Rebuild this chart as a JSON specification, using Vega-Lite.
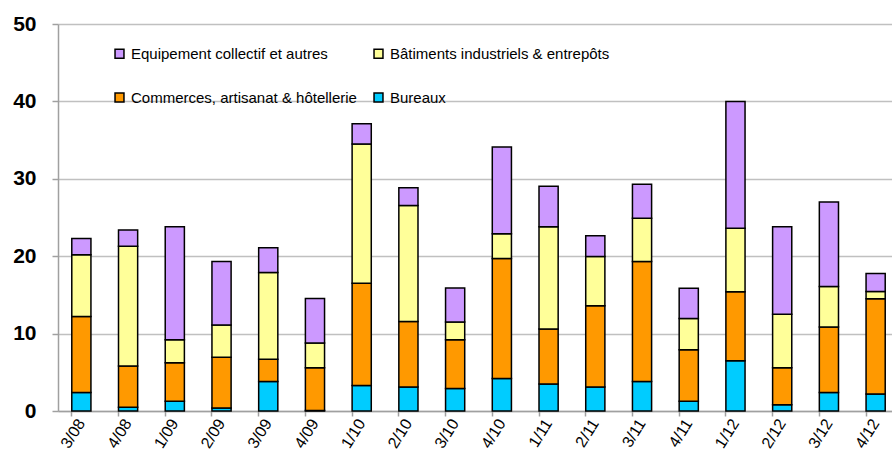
{
  "$schema": "https://vega.github.io/schema/vega-lite/v6.json",
  "autosize": {"type": "none"},
  "padding": {"left": 58, "top": 24, "right": 0, "bottom": 52},
  "width": 841,
  "height": 387,
  "background": "white",
  "config": {
    "view": {"stroke": null},
    "font": "Liberation Sans"
  },
  "data": {
    "values": [
      {"q": "3/08", "s": "Bureaux", "v": 2.4}, {"q": "3/08", "s": "Commerces", "v": 9.8}, {"q": "3/08", "s": "Batiments", "v": 8.0}, {"q": "3/08", "s": "Equipement", "v": 2.1},
      {"q": "4/08", "s": "Bureaux", "v": 0.5}, {"q": "4/08", "s": "Commerces", "v": 5.3}, {"q": "4/08", "s": "Batiments", "v": 15.5}, {"q": "4/08", "s": "Equipement", "v": 2.1},
      {"q": "1/09", "s": "Bureaux", "v": 1.25}, {"q": "1/09", "s": "Commerces", "v": 5.0}, {"q": "1/09", "s": "Batiments", "v": 2.95}, {"q": "1/09", "s": "Equipement", "v": 14.6},
      {"q": "2/09", "s": "Bureaux", "v": 0.4}, {"q": "2/09", "s": "Commerces", "v": 6.55}, {"q": "2/09", "s": "Batiments", "v": 4.15}, {"q": "2/09", "s": "Equipement", "v": 8.2},
      {"q": "3/09", "s": "Bureaux", "v": 3.8}, {"q": "3/09", "s": "Commerces", "v": 2.9}, {"q": "3/09", "s": "Batiments", "v": 11.2}, {"q": "3/09", "s": "Equipement", "v": 3.2},
      {"q": "4/09", "s": "Bureaux", "v": 0.05}, {"q": "4/09", "s": "Commerces", "v": 5.55}, {"q": "4/09", "s": "Batiments", "v": 3.2}, {"q": "4/09", "s": "Equipement", "v": 5.75},
      {"q": "1/10", "s": "Bureaux", "v": 3.3}, {"q": "1/10", "s": "Commerces", "v": 13.2}, {"q": "1/10", "s": "Batiments", "v": 18.0}, {"q": "1/10", "s": "Equipement", "v": 2.6},
      {"q": "2/10", "s": "Bureaux", "v": 3.1}, {"q": "2/10", "s": "Commerces", "v": 8.45}, {"q": "2/10", "s": "Batiments", "v": 15.0}, {"q": "2/10", "s": "Equipement", "v": 2.3},
      {"q": "3/10", "s": "Bureaux", "v": 2.9}, {"q": "3/10", "s": "Commerces", "v": 6.3}, {"q": "3/10", "s": "Batiments", "v": 2.3}, {"q": "3/10", "s": "Equipement", "v": 4.4},
      {"q": "4/10", "s": "Bureaux", "v": 4.2}, {"q": "4/10", "s": "Commerces", "v": 15.5}, {"q": "4/10", "s": "Batiments", "v": 3.2}, {"q": "4/10", "s": "Equipement", "v": 11.2},
      {"q": "1/11", "s": "Bureaux", "v": 3.5}, {"q": "1/11", "s": "Commerces", "v": 7.1}, {"q": "1/11", "s": "Batiments", "v": 13.2}, {"q": "1/11", "s": "Equipement", "v": 5.25},
      {"q": "2/11", "s": "Bureaux", "v": 3.1}, {"q": "2/11", "s": "Commerces", "v": 10.5}, {"q": "2/11", "s": "Batiments", "v": 6.35}, {"q": "2/11", "s": "Equipement", "v": 2.7},
      {"q": "3/11", "s": "Bureaux", "v": 3.8}, {"q": "3/11", "s": "Commerces", "v": 15.5}, {"q": "3/11", "s": "Batiments", "v": 5.6}, {"q": "3/11", "s": "Equipement", "v": 4.4},
      {"q": "4/11", "s": "Bureaux", "v": 1.25}, {"q": "4/11", "s": "Commerces", "v": 6.65}, {"q": "4/11", "s": "Batiments", "v": 4.05}, {"q": "4/11", "s": "Equipement", "v": 3.9},
      {"q": "1/12", "s": "Bureaux", "v": 6.5}, {"q": "1/12", "s": "Commerces", "v": 8.9}, {"q": "1/12", "s": "Batiments", "v": 8.2}, {"q": "1/12", "s": "Equipement", "v": 16.4},
      {"q": "2/12", "s": "Bureaux", "v": 0.8}, {"q": "2/12", "s": "Commerces", "v": 4.8}, {"q": "2/12", "s": "Batiments", "v": 6.9}, {"q": "2/12", "s": "Equipement", "v": 11.3},
      {"q": "3/12", "s": "Bureaux", "v": 2.4}, {"q": "3/12", "s": "Commerces", "v": 8.45}, {"q": "3/12", "s": "Batiments", "v": 5.25}, {"q": "3/12", "s": "Equipement", "v": 10.9},
      {"q": "4/12", "s": "Bureaux", "v": 2.2}, {"q": "4/12", "s": "Commerces", "v": 12.3}, {"q": "4/12", "s": "Batiments", "v": 0.95}, {"q": "4/12", "s": "Equipement", "v": 2.3}
    ]
  },
  "transform": [
    {"calculate": "indexof(['Bureaux','Commerces','Batiments','Equipement'], datum.s)", "as": "ord"}
  ],
  "mark": {"type": "bar", "stroke": "black", "strokeWidth": 1.5},
  "encoding": {
    "x": {
      "field": "q", "type": "ordinal", "sort": null,
      "scale": {"paddingInner": 0.59, "paddingOuter": 0.295},
      "axis": {
        "title": null, "labelAngle": -58, "labelFontSize": 16, "labelColor": "black",
        "labelFont": "Liberation Sans", "bandPosition": 0, "domainColor": "#a0a0a0",
        "domainWidth": 1.5, "tickColor": "#a0a0a0", "tickWidth": 1.5, "tickSize": 5,
        "labelPadding": 4
      }
    },
    "y": {
      "field": "v", "type": "quantitative", "aggregate": "sum", "stack": "zero",
      "scale": {"domain": [0, 50], "nice": false},
      "axis": {
        "title": null, "values": [0, 10, 20, 30, 40, 50], "labelFontSize": 21,
        "labelFontWeight": "bold", "labelColor": "black", "labelFont": "Liberation Sans",
        "gridColor": "#c0c0c0", "gridWidth": 1.5, "domainColor": "#a0a0a0", "domainWidth": 1.5,
        "tickColor": "#a0a0a0", "tickWidth": 1.5, "tickSize": 6, "labelPadding": 16
      }
    },
    "color": {
      "field": "s", "type": "nominal",
      "scale": {
        "domain": ["Equipement", "Batiments", "Commerces", "Bureaux"],
        "range": ["#CC99FF", "#FFFF99", "#FF9900", "#00CCFF"]
      },
      "legend": {
        "title": null, "orient": "none", "legendX": 54, "legendY": 22, "columns": 2,
        "direction": "horizontal",
        "labelExpr": "{'Equipement': 'Equipement collectif et autres', 'Batiments': 'Bâtiments  industriels & entrepôts', 'Commerces': 'Commerces, artisanat & hôtellerie', 'Bureaux': 'Bureaux'}[datum.label]",
        "symbolType": "square", "symbolSize": 80, "symbolStrokeColor": "black", "symbolStrokeWidth": 1.5,
        "labelFontSize": 15, "labelColor": "black", "labelFont": "Liberation Sans", "labelLimit": 400,
        "rowPadding": 28, "columnPadding": 14, "labelOffset": 4
      }
    },
    "order": {"field": "ord", "type": "quantitative"}
  }
}
